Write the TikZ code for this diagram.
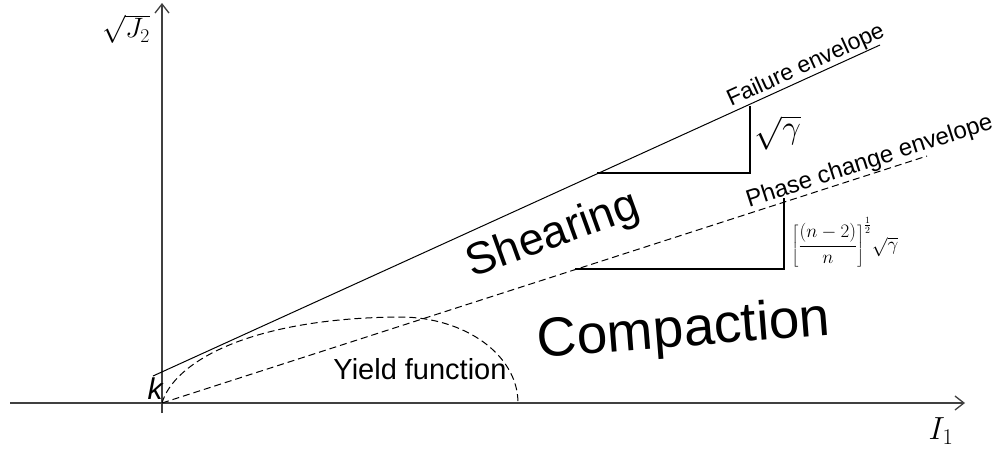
\RequirePackage{fix-cm}
\documentclass[tikz,border=0pt]{standalone}
\usepackage{fontspec}
\setmainfont{Liberation Sans}
\usetikzlibrary{arrows.meta}
\begin{document}
\begin{tikzpicture}[x=1pt,y=-1pt,
axis/.style={line width=1.3pt,black!75,-{Straight Barb[length=9pt,width=14pt,line width=1.3pt]}},
envelope/.style={line width=1pt},
dashedline/.style={line width=1pt,dash pattern=on 7pt off 4pt},
tri/.style={line width=2pt},
txt/.style={font=\fontsize{#1}{#1}\selectfont,inner sep=0pt}
]
\useasboundingbox (0,0) rectangle (1004,450);

% axes
\coordinate (O) at (162,403);
\coordinate (xl) at (10,403);
\coordinate (xr) at (965,403);
\coordinate (yb) at (162,413);
\coordinate (yt) at (162,3);
\draw[axis] (xl) -- (xr);
\draw[axis] (yb) -- (yt);

% envelopes
\coordinate (f0) at (153,376);
\coordinate (f1) at (880,45);
\coordinate (p1) at (927,156);
\draw[envelope] (f0) -- node[txt=23,sloped,above=0.5pt,pos=0.905] (fail) {Failure envelope} (f1);
\draw[dashedline] (O) -- node[txt=24,sloped,above=0.5pt,pos=0.93] (phase) {Phase change envelope} (p1);

% yield function
\coordinate (cap) at (400,317);
\coordinate (c1) at (518,403);
\draw[dashedline] (O) .. controls (174,362) and (250,318) .. (cap)
  .. controls (465,317) and (518,355) .. (c1);

% slopes
\coordinate (a1) at (597,173);
\coordinate (a2) at (750,173);
\coordinate (a3) at (750,106);
\draw[tri] (a1) -- (a2) -- (a3);
\coordinate (b1) at (575,269);
\coordinate (b2) at (784,269);
\coordinate (b3) at (784,198);
\draw[tri] (b1) -- (b2) -- (b3);

% labels
\node[txt=28] (sqJ) at (126,29) {$\sqrt{J_2}$};
\node[txt=32] (I1) at (941,431) {$I_1$};
\node[txt=30] (k) at (155,389) {\itshape k};
\node[txt=33] (sqg) at (778,133) {$\sqrt{\gamma}$};
\node[txt=19] (frac) at (845,242) {$\left[\displaystyle\frac{(n-2)}{n}\right]^{\frac{1}{2}}\!\sqrt{\gamma}$};
\node[txt=45,rotate=20] (shear) at (553,236) {Shearing};
\node[txt=55,rotate=4.5] (comp) at (684,332) {Compaction};
\node[txt=29] (yield) at (420,369) {Yield function};

\end{tikzpicture}
\end{document}
